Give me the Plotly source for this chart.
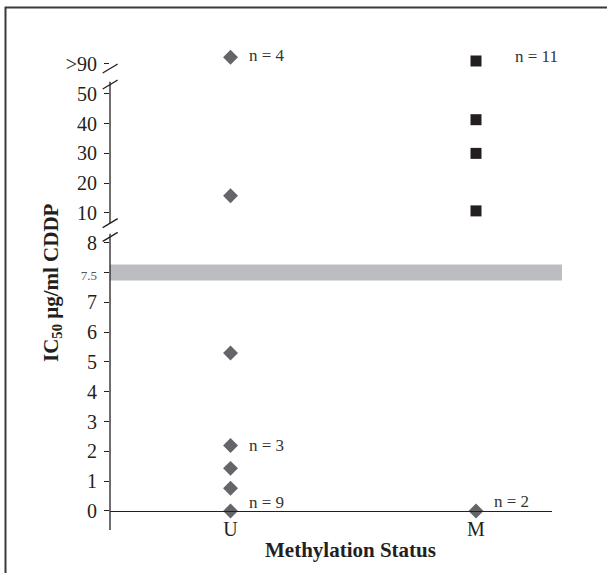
import numpy as np
import plotly.graph_objects as go

# ---- data -------------------------------------------------------------
categories = ["U", "M"]

# IC50 (µg/ml CDDP); the ">90" group is stored as values above 90
diamond_status = ["U", "U", "U", "U", "U", "U", "U", "M"]
diamond_ic50 = [99, 15.8, 5.3, 2.2, 1.43, 0.76, 0, 0]

square_status = ["M", "M", "M", "M"]
square_ic50 = [94, 41.3, 30, 10.7]

tick_values = [0, 1, 2, 3, 4, 5, 6, 7, 7.5, 8, 10, 20, 30, 40, 50, 90]
tick_labels = ["0", "1", "2", "3", "4", "5", "6", "7", "7.5", "8",
               "10", "20", "30", "40", "50", ">90"]

threshold = 7.5

count_labels = ["n = 4", "n = 3", "n = 9", "n = 11", "n = 2"]
count_status = ["U", "U", "U", "M", "M"]
count_ic50 = [99, 2.2, 0, 94, 0]

# ---- broken-axis scale ----------------------------------------------------
# value -> axis position; 0-8 expanded around 7.5, 10-50 compressed, >90 on top
VALUE_KNOTS = [0, 7, 7.5, 8, 10, 50, 90, 100]
AXIS_KNOTS = [0, 7, 8, 9, 10, 14, 15, 15.25]


def ypos(v):
    return np.interp(v, VALUE_KNOTS, AXIS_KNOTS)


FONT = "Liberation Serif"
INK = "#231f20"
Y_RANGE = [-0.638, 16.14]
PX_PER_UNIT = 500 / (Y_RANGE[1] - Y_RANGE[0])
PLOT_W = 442

fig = go.Figure()

fig.add_trace(go.Scatter(
    x=diamond_status, y=ypos(diamond_ic50), mode="markers",
    marker=dict(symbol="diamond", size=11.5, color="#646569", line=dict(width=0)),
    showlegend=False, hoverinfo="skip"))

fig.add_trace(go.Scatter(
    x=square_status, y=ypos(square_ic50), mode="markers",
    marker=dict(symbol="square", size=11, color=INK, line=dict(width=0)),
    showlegend=False, hoverinfo="skip"))

# group counts
shifts = {"n = 4": (16, 2), "n = 3": (16, 0), "n = 9": (16, 8),
          "n = 11": (37, 4), "n = 2": (16, 9)}
for txt, st, v in zip(count_labels, count_status, count_ic50):
    dx, dy = shifts[txt]
    fig.add_annotation(x=st, y=float(ypos(v)), text=txt, showarrow=False,
                       xanchor="left", yanchor="middle", xshift=dx, yshift=dy,
                       font=dict(family=FONT, size=17, color="#333333"))

shapes = []
# threshold band
half = 8 / PX_PER_UNIT
shapes.append(dict(type="rect", xref="paper", yref="y", x0=0, x1=452 / PLOT_W,
                   y0=float(ypos(threshold)) - half, y1=float(ypos(threshold)) + half,
                   fillcolor="#bcbdc1", line=dict(width=0), layer="below"))

# y axis line with breaks
axis_line = dict(color=INK, width=1.3)
for y0, y1 in [(Y_RANGE[0], 9.3), (9.66, 14.4)]:
    shapes.append(dict(type="line", xref="paper", yref="y", x0=0, x1=0,
                       y0=y0, y1=y1, line=axis_line))

# break slashes
sx0, sx1 = -7.3 / PLOT_W, 7.7 / PLOT_W
sh = 4.5 / PX_PER_UNIT
for c in [9.2, 9.66, 14.31, 14.85]:
    shapes.append(dict(type="line", xref="paper", yref="y", x0=sx0, x1=sx1,
                       y0=c - sh, y1=c + sh, line=axis_line))

# frame
shapes.append(dict(type="rect", xref="paper", yref="paper",
                   x0=(5.5 - 110) / PLOT_W, x1=1.3, y0=-0.3, y1=(530 - 7.5) / 500,
                   line=dict(color="#3a3a3a", width=2), fillcolor="rgba(0,0,0,0)"))

tick_text = [f"<span style='font-size:13px;color:#555'>{t}</span>" if t == "7.5" else t
             for t in tick_labels]

fig.update_layout(
    width=607, height=573,
    margin=dict(l=110, r=55, t=30, b=43),
    paper_bgcolor="white", plot_bgcolor="white",
    font=dict(family=FONT, color=INK),
    shapes=shapes,
    xaxis=dict(type="category", categoryorder="array", categoryarray=categories,
               range=[-0.491, 1.3096], anchor="free", position=19 / 500,
               showline=True, linecolor=INK, linewidth=1.3, ticks="",
               showgrid=False, zeroline=False,
               tickfont=dict(family=FONT, size=20, color=INK)),
    yaxis=dict(range=Y_RANGE, tickmode="array",
               tickvals=[float(v) for v in ypos(tick_values)], ticktext=tick_text,
               ticks="outside", ticklen=5, tickwidth=1.3, tickcolor=INK,
               ticklabelstandoff=3,
               showline=False, showgrid=False, zeroline=False,
               tickfont=dict(family=FONT, size=20, color=INK)),
)

fig.add_annotation(xref="paper", yref="paper", x=(52 - 110) / PLOT_W, y=(530 - 283) / 500,
                   xanchor="center", yanchor="middle",
                   text="<b>IC<sub>50</sub> μg/ml CDDP</b>", textangle=-90, showarrow=False,
                   font=dict(family=FONT, size=21, color=INK))
fig.add_annotation(xref="paper", yref="paper", x=(350 - 110) / PLOT_W, y=(530 - 550) / 500,
                   xanchor="center", yanchor="middle",
                   text="<b>Methylation Status</b>", showarrow=False,
                   font=dict(family=FONT, size=21, color=INK))

fig.write_html("out.html")
